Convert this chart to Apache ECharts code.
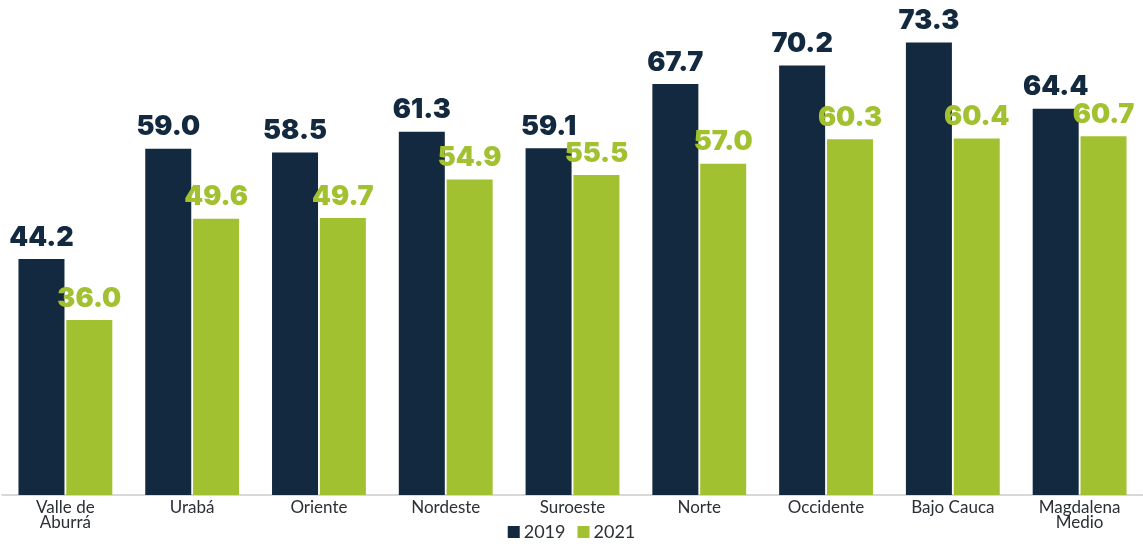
<!DOCTYPE html>
<html><head><meta charset="utf-8">
<script src="https://cdn.jsdelivr.net/npm/echarts@6/dist/echarts.min.js"></script>
<style>html,body{margin:0;padding:0;background:#fff}#c{width:1143px;height:546px}</style>
</head><body><div id="c"></div>
<script>
const categories = ['Valle de\nAburrá','Urabá','Oriente','Nordeste','Suroeste','Norte','Occidente','Bajo Cauca','Magdalena\nMedio'];
const values2019 = [44.2,59.0,58.5,61.3,59.1,67.7,70.2,73.3,64.4];
const values2021 = [36.0,49.6,49.7,54.9,55.5,57.0,60.3,60.4,60.7];
const seriesNames = ['2019','2021'];
const dark = '#13293f', green = '#a2c130';
const chart = echarts.init(document.getElementById('c'));
const lbl = (c) => ({show:true, position:'top', distance:8, color:c, fontFamily:'Inter', fontWeight:900, fontSize:27, formatter:p=>p.value.toFixed(1)});
chart.setOption({
  animation:false,
  grid:{left:2,right:0,top:0,bottom:51,containLabel:false},
  legend:{bottom:0,left:'center',itemWidth:12,itemHeight:12,itemGap:12,icon:'rect',textStyle:{fontFamily:'Lato',fontSize:18,color:'#2b2f36',padding:[0,0,0,-1]},data:seriesNames},
  xAxis:{type:'category',data:categories,axisTick:{show:false},axisLine:{lineStyle:{color:'#cccccc',width:1.5}},
    axisLabel:{color:'#2b2f36',fontFamily:'Lato',fontSize:17,lineHeight:15,margin:5,interval:0}},
  yAxis:{type:'value',min:12.5,max:79,show:false,splitLine:{show:false}},
  series:[
    {name:seriesNames[0],type:'bar',data:values2019,itemStyle:{color:dark},barWidth:46,barGap:'4%',label:lbl(dark)},
    {name:seriesNames[1],type:'bar',data:values2021,itemStyle:{color:green},barWidth:46,label:lbl(green)}
  ]
});
</script></body></html>
